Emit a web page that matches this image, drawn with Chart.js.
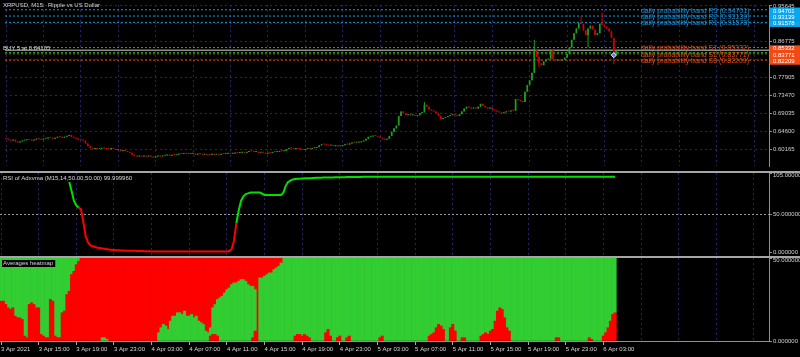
<!DOCTYPE html>
<html><head><meta charset="utf-8">
<script src="https://cdn.jsdelivr.net/npm/chart.js@4/dist/chart.umd.min.js"></script>
<style>
html,body{margin:0;padding:0;background:#000;width:800px;height:357px;overflow:hidden}
.pane{position:absolute;left:0;width:800px}
.sep{position:absolute;left:0;width:800px;height:2px;background:#a6a6a6}
</style></head><body>
<div class="pane" style="top:0;height:171px"><canvas id="cMain"></canvas></div>
<div class="sep" style="top:171px"></div>
<div class="pane" style="top:173px;height:83px"><canvas id="cRsi"></canvas></div>
<div class="sep" style="top:256px"></div>
<div class="pane" style="top:258px;height:99px"><canvas id="cHeat"></canvas></div>
<script>
// ---------------- DATA ----------------
const headerText = 'XRPUSD, M15:  Ripple vs US Dollar';
const orderText = 'BUY 5 at 0.84105';
const rsiTitle = 'RSI of Adxvma (M15,14,50.00,50.00) 99.999960';
const heatTitle = 'Averages heatmap';

const timeLabels = ['3 Apr 2021','3 Apr 15:00','3 Apr 19:00','3 Apr 23:00','4 Apr 03:00','4 Apr 07:00','4 Apr 11:00','4 Apr 15:00','4 Apr 19:00','4 Apr 23:00','5 Apr 03:00','5 Apr 07:00','5 Apr 11:00','5 Apr 15:00','5 Apr 19:00','5 Apr 23:00','6 Apr 03:00'];
const barsPerLabel = 16;

const priceTicks = [0.60165,0.64600,0.69035,0.73470,0.77905,0.82340,0.86775,0.91210,0.95645];

const firstOpen = 0.6290;
const closes = [
0.6273,0.6250,0.6227,0.6250,0.6203,0.6180,0.6203,0.6227,0.6235,0.6250,
0.6245,0.6227,0.6250,0.6273,0.6268,0.6250,0.6273,0.6280,0.6297,0.6290,
0.6273,0.6297,0.6320,0.6315,0.6297,0.6320,0.6343,0.6367,0.6320,0.6297,
0.6273,0.6250,0.6245,0.6227,0.6157,0.6087,0.6040,0.6017,0.6040,0.6017,
0.6022,0.6040,0.6035,0.6017,0.6010,0.6040,0.6017,0.5993,0.5998,0.5970,
0.5993,0.5970,0.5946,0.5923,0.5876,0.5853,0.5830,0.5853,0.5830,0.5853,
0.5830,0.5853,0.5830,0.5806,0.5830,0.5853,0.5830,0.5853,0.5858,0.5876,
0.5853,0.5876,0.5870,0.5880,0.5900,0.5895,0.5905,0.5900,0.5894,0.5900,
0.5906,0.5876,0.5900,0.5895,0.5876,0.5882,0.5876,0.5870,0.5900,0.5876,
0.5880,0.5876,0.5900,0.5894,0.5900,0.5905,0.5900,0.5906,0.5923,0.5918,
0.5923,0.5928,0.5923,0.5946,0.5970,0.5965,0.5946,0.5950,0.5923,0.5928,
0.5923,0.5900,0.5923,0.5918,0.5946,0.5941,0.5946,0.5970,0.5965,0.5970,
0.6017,0.6040,0.6035,0.6017,0.6022,0.6017,0.6012,0.5993,0.6017,0.6022,
0.6017,0.6040,0.6045,0.6063,0.6110,0.6133,0.6128,0.6110,0.6105,0.6110,
0.6087,0.6110,0.6087,0.6092,0.6110,0.6133,0.6128,0.6157,0.6180,0.6175,
0.6180,0.6185,0.6203,0.6227,0.6273,0.6320,0.6325,0.6343,0.6338,0.6320,
0.6297,0.6273,0.6250,0.6273,0.6343,0.6437,0.6530,0.6600,0.6833,0.6950,
0.6904,0.6857,0.6880,0.6857,0.6862,0.6833,0.6857,0.6904,0.6927,0.7114,
0.7067,0.6997,0.6974,0.6950,0.6904,0.6833,0.6763,0.6787,0.6810,0.6833,
0.6857,0.6880,0.6857,0.6833,0.6880,0.6950,0.7020,0.7067,0.7044,0.7020,
0.7044,0.7020,0.7067,0.7137,0.7090,0.7044,0.7020,0.7044,0.6997,0.6974,
0.6950,0.6927,0.6904,0.6927,0.6950,0.6945,0.6974,0.6969,0.7254,0.7230,
0.7207,0.7184,0.7440,0.7604,0.7720,0.7907,0.8491,0.8304,0.8141,0.8094,
0.8187,0.8234,0.8257,0.8467,0.8234,0.8211,0.8234,0.8211,0.8234,0.8281,
0.8374,0.8537,0.8724,0.8888,0.9004,0.9144,0.9121,0.8958,0.8841,0.9004,
0.9074,0.8981,0.8841,0.8888,0.9121,0.9098,0.9051,0.9004,0.8934,0.8771,
0.8351,0.8467];
// notable wicks [bar, price]
const wickHigh = [[179,0.7184],[226,0.8724],[246,0.9308],[255,0.9401],[233,0.8491]];
const wickLow = [[228,0.8047],[249,0.8537],[260,0.8117],[186,0.6740]];

const bandNames = ['R3','R2','R1','S1','S2','S3'];
const bandValues = [0.94701,0.93139,0.91578,0.85332,0.83771,0.82209];
const orderPrice = 0.84105;
const bidPrice = 0.8467;
const markerBar = 260, markerPrice = 0.8345;
const bandLabelBar = 271.6;

const rsiValues = [
null,null,null,null,null,null,null,null,null,null,
null,null,null,null,null,null,null,null,null,null,
null,null,null,null,null,null,null,null,null,93,
81,68,62,59,57,40,21,13,9,8,
7,6,5.5,5,4.5,4,3.5,3,2.8,2.6,
2.5,2.3,2.2,2.1,2,2,1.9,1.8,1.7,1.6,
1.5,1.4,1.3,1.2,1.1,1,1,1,0.9,0.9,
0.9,0.9,0.8,0.8,0.8,0.8,0.8,0.8,0.8,0.8,
0.8,0.8,0.8,0.8,0.8,0.8,0.8,0.8,0.8,0.8,
0.8,0.8,0.8,0.8,0.8,0.9,1,1.5,4,15,
38,55,68,74,77,78,79,79,79,79,
79,77.5,76,76,76,76,76,76,76,76,
79,88,93,95,96.5,97,97.5,97.5,97.8,98,
98,98.2,98.3,98.5,98.6,98.7,98.8,98.9,99,99,
99.1,99.2,99.3,99.3,99.4,99.5,99.5,99.6,99.6,99.7,
99.7,99.8,99.8,99.8,99.9,99.9,99.9,99.9,99.9,99.9,
100,100,100,100,100,100,100,100,100,100,
100,100,100,100,100,100,100,100,100,100,
100,100,100,100,100,100,100,100,100,100,
100,100,100,100,100,100,100,100,100,100,
100,100,100,100,100,100,100,100,100,100,
100,100,100,100,100,100,100,100,100,100,
100,100,100,100,100,100,100,100,100,100,
100,100,100,100,100,100,100,100,100,100,
100,100,100,100,100,100,100,100,100,100,
100,100,100,100,100,100,100,100,100,100,
100,100];
const rsiTrendRuns = [[29,33,1],[34,100,0],[101,261,1]];
const rsiAxisTicks = [0,50,105];

// heatmap: rows 0..50 ; per bar: red at bottom, then green, then red on top, rest green
const heatRows = 50;
const heatRedLow = [
24,24,22,20,19,20,15,14,14,13,
3,2,22,23,22,20,20,4,3,2,
2,25,24,3,2,2,17,18,28,30,
40,42,46,48,0,0,0,0,0,0,
0,0,0,0,0,0,0,0,0,0,
0,0,0,0,0,0,0,0,0,0,
0,0,0,0,0,0,0,0,0,0,
0,0,0,0,0,0,0,0,0,0,
0,0,0,0,0,0,0,0,0,3,
4,4,3,0,0,0,0,0,0,0,
0,0,0,0,0,0,0,2,6,0,
0,0,0,0,0,0,0,0,0,0,
0,0,0,0,0,3,4,4,3,4,
3,2,0,0,0,0,0,0,5,7,
3,0,0,2,3,0,0,2,3,0,
0,0,0,0,0,0,0,0,0,0,
0,2,3,0,0,0,0,0,0,0,
0,0,0,0,0,0,0,0,0,0,
0,0,3,4,5,8,10,9,7,0,
0,8,10,6,0,0,2,2,0,0,
0,0,0,0,3,4,5,4,6,7,
12,18,20,19,14,8,6,0,0,0,
0,0,0,0,0,0,0,0,0,0,
0,0,0,0,0,0,2,2,0,0,
0,0,0,0,0,0,0,0,0,0,
2,1,0,0,0,0,3,5,8,12,
16,17];
const heatSpanStart = 34;
const heatGreenMid = [
0,0,0,0,0,0,
0,0,0,2,2,1,0,0,0,0,
0,0,0,0,0,0,0,0,0,0,
0,0,0,0,0,0,0,5,8,10,
9,7,12,15,15,17,17,16,18,15,
15,16,14,15,12,11,10,6,5,5,
16,18,22,26,27,29,31,32,34,35,
35,36,37,37,36,34,33,31,25,0,
38,38,39,40,41,41,43,44,45,47];
const heatRedTop = [
50,50,50,50,50,50,
50,50,50,48,48,49,50,50,50,50,
50,50,50,50,50,50,50,50,50,50,
50,50,50,50,50,50,50,45,42,40,
41,43,38,35,35,33,33,34,32,35,
35,34,36,35,38,39,40,44,45,42,
30,28,25,24,23,21,19,18,16,15,
15,14,13,13,14,16,17,17,19,50,
12,12,11,10,9,9,7,6,5,3];

// ---------------- STYLE ----------------
const FONT = '"Liberation Sans", Arial, sans-serif';
Chart.defaults.font.family = FONT;
Chart.defaults.color = '#d0d0d0';
const gridColor = '#24246e';
const gridDash = [2,3];
const axisGray = '#909090';
const upColor = '#1ea01e', downColor = '#d40000';
const rColor = '#1f90d8', sColor = '#e4501e';
const rBox = '#0aa6ee', sBox = '#f24a14';
const heatRed = '#ff0000', heatGreen = '#32cd32';
const xMin = -0.43, xMax = 326.4;
const priceMin = 0.55963, priceMax = 0.95878;
const lastLabelBar = (timeLabels.length - 1) * barsPerLabel;

// ---------------- helpers ----------------
const N = closes.length;
const opens = closes.map((c, i) => i ? closes[i - 1] : firstOpen);
const highs = closes.map((c, i) => Math.max(c, opens[i]));
const lows = closes.map((c, i) => Math.min(c, opens[i]));
wickHigh.forEach(([i, v]) => highs[i] = Math.max(highs[i], v));
wickLow.forEach(([i, v]) => lows[i] = Math.min(lows[i], v));
const candleCol = closes.map((c, i) => c >= opens[i] ? upColor : downColor);

function xAxis(showLabels) {
  return {
    type: 'linear', min: xMin, max: xMax, offset: false, bounds: 'data', stacked: true,
    afterBuildTicks: s => {
      const t = [];
      for (let v = 0; v <= xMax; v += barsPerLabel) t.push({ value: v });
      s.ticks = t;
    },
    afterFit: s => { s.height = showLabels ? 16 : 0; s.paddingLeft = 0; s.paddingRight = 0; },
    grid: {
      color: gridColor, lineWidth: 1, offset: false, drawTicks: showLabels, tickLength: 4,
      tickColor: c => (c.tick && c.tick.value <= lastLabelBar) ? '#a8a8a8' : 'rgba(0,0,0,0)',
      tickBorderDash: []
    },
    border: { display: showLabels, color: axisGray, dash: gridDash },
    ticks: {
      display: showLabels, autoSkip: false, maxRotation: 0, minRotation: 0, align: 'start',
      color: '#d8d8d8', font: { size: 6, family: FONT }, padding: 1,
      callback: (v, i) => (i < timeLabels.length ? timeLabels[i] : '')
    }
  };
}

const baseOpts = {
  responsive: true, maintainAspectRatio: false, animation: false, events: [],
  devicePixelRatio: 1,
  layout: { padding: 0 },
  plugins: { legend: { display: false }, tooltip: { enabled: false } }
};

function drawRightLabels(chart, ticks) {
  const ctx = chart.ctx, ys = chart.scales.y, ca = chart.chartArea;
  ctx.save();
  ctx.font = '6px ' + FONT; ctx.fillStyle = '#d0d0d0';
  ctx.textAlign = 'left'; ctx.textBaseline = 'middle';
  ticks.forEach(v => {
    let py = ys.getPixelForValue(v);
    py = Math.max(py, ca.top + 2.8);
    ctx.fillText(v.toFixed(6), ca.right + 4, py);
  });
  ctx.restore();
}

// ---------------- MAIN PRICE CHART ----------------
const lineDs = (v, color, dash, w) => ({
  type: 'line', data: [{ x: xMin, y: v }, { x: xMax, y: v }], borderColor: color,
  borderWidth: w || 1, borderDash: dash, pointRadius: 0, order: 5
});
const levelSets = bandValues.map((v, k) => lineDs(v, k < 3 ? '#1a9ad6' : '#e8481a', [2, 2]));

new Chart(document.getElementById('cMain'), {
  type: 'bar',
  data: {
    datasets: [
      ...levelSets,
      lineDs(orderPrice, '#10a010', [2, 2]),
      lineDs(bidPrice, '#8c8c8c', [], 1.5),
      { type: 'bar', data: closes.map((c, i) => ({ x: i, y: [lows[i], highs[i]] })),
        backgroundColor: candleCol, barThickness: 1, grouped: false, inflateAmount: 0, order: 3 },
      { type: 'bar', data: closes.map((c, i) => ({ x: i, y: [opens[i], c] })),
        backgroundColor: candleCol, barThickness: 1.7, grouped: false, minBarLength: 1, inflateAmount: 0, order: 2 },
      { type: 'line', data: [{ x: markerBar, y: markerPrice }], showLine: false, pointStyle: 'rectRot',
        pointRadius: 2.6, pointBackgroundColor: '#3a8ee6', pointBorderColor: '#e8f2ff', pointBorderWidth: 1, order: 0 }
    ]
  },
  options: {
    ...baseOpts,
    scales: {
      x: xAxis(false),
      y: {
        position: 'right', min: priceMin, max: priceMax, bounds: 'data',
        afterBuildTicks: s => { s.ticks = priceTicks.map(v => ({ value: v })); },
        afterFit: s => { s.width = 31; s.paddingTop = 0; s.paddingBottom = 0; },
        grid: { color: gridColor, drawTicks: true, tickLength: 3, tickColor: axisGray, tickBorderDash: [] },
        border: { display: true, color: axisGray, dash: gridDash },
        ticks: { autoSkip: false, color: '#d0d0d0', font: { size: 6, family: FONT }, padding: 1,
                 callback: v => Number(v).toFixed(5) }
      }
    }
  },
  plugins: [{
    id: 'mainText',
    afterDraw(chart) {
      const ctx = chart.ctx, xs = chart.scales.x, ys = chart.scales.y, ca = chart.chartArea;
      ctx.save();
      ctx.textAlign = 'left'; ctx.textBaseline = 'middle';
      ctx.font = '6px ' + FONT; ctx.fillStyle = '#d8d8d8';
      ctx.fillText(headerText, 3, 5);
      ctx.fillText(orderText, 3, ys.getPixelForValue(orderPrice) - 4);
      ctx.font = '7px ' + FONT;
      const lx = xs.getPixelForValue(bandLabelBar);
      bandNames.forEach((n, k) => {
        ctx.fillStyle = k < 3 ? rColor : sColor;
        ctx.fillText('daily probability band ' + n + ' (' + bandValues[k].toFixed(5) + ')', lx, ys.getPixelForValue(bandValues[k]) + 1);
      });
      ctx.font = '6px ' + FONT;
      bandValues.forEach((v, k) => {
        const py = ys.getPixelForValue(v) + 1.2;
        ctx.fillStyle = k < 3 ? rBox : sBox;
        ctx.fillRect(ca.right + 1, py - 3.4, 31, 6.8);
        ctx.fillStyle = '#ffffff';
        ctx.fillText(v.toFixed(5), ca.right + 4, py);
      });
      ctx.restore();
    }
  }]
});

// ---------------- RSI CHART ----------------
const rsiPts = [];
rsiValues.forEach((v, i) => { if (v !== null) rsiPts.push({ x: i, y: v }); });
function rsiUp(i) {
  for (const [a, b, u] of rsiTrendRuns) if (i >= a && i <= b) return u;
  return 1;
}
new Chart(document.getElementById('cRsi'), {
  type: 'line',
  data: { datasets: [{
    data: rsiPts, borderWidth: 2, pointRadius: 0, tension: 0,
    borderColor: '#00e000',
    segment: { borderColor: c => rsiUp(rsiPts[c.p1DataIndex].x) ? '#00e000' : '#ff0000' }
  }] },
  options: {
    ...baseOpts,
    scales: {
      x: xAxis(false),
      y: {
        position: 'right', min: -5, max: 105, bounds: 'data',
        afterBuildTicks: s => { s.ticks = rsiAxisTicks.map(v => ({ value: v })); },
        afterFit: s => { s.width = 31; s.paddingTop = 0; s.paddingBottom = 0; },
        grid: { color: c => (c.tick && c.tick.value === 50) ? '#9a9a9a' : 'rgba(0,0,0,0)',
                drawTicks: true, tickLength: 3, tickColor: axisGray, tickBorderDash: [] },
        border: { display: true, color: axisGray, dash: [2, 2] },
        ticks: { display: false }
      }
    }
  },
  plugins: [{
    id: 'rsiText',
    afterDraw(chart) {
      const ctx = chart.ctx;
      ctx.save();
      ctx.font = '6px ' + FONT; ctx.fillStyle = '#d8d8d8';
      ctx.textAlign = 'left'; ctx.textBaseline = 'middle';
      ctx.fillText(rsiTitle, 3, 5.5);
      ctx.restore();
      drawRightLabels(chart, rsiAxisTicks);
    }
  }]
});

// ---------------- HEATMAP CHART ----------------
const hRedLow = [], hGreenMid = [], hRedTop = [], hGreenTop = [];
for (let i = 0; i < N; i++) {
  const a = heatRedLow[i];
  const k = i - heatSpanStart;
  const inSpan = k >= 0 && k < heatGreenMid.length;
  const g = inSpan ? heatGreenMid[k] : 0;
  const r = inSpan ? heatRedTop[k] : 0;
  const rest = heatRows - a - g - r;
  hRedLow.push({ x: i, y: a || null });
  hGreenMid.push({ x: i, y: g || null });
  hRedTop.push({ x: i, y: r || null });
  hGreenTop.push({ x: i, y: rest || null });
}
const heatDs = (data, color) => ({ data, backgroundColor: color, borderWidth: 0,
  barPercentage: 1, categoryPercentage: 1, stack: 'h' });
const heatTicks = [0, 50];
new Chart(document.getElementById('cHeat'), {
  type: 'bar',
  data: { datasets: [
    heatDs(hRedLow, heatRed), heatDs(hGreenMid, heatGreen),
    heatDs(hRedTop, heatRed), heatDs(hGreenTop, heatGreen)
  ] },
  options: {
    ...baseOpts,
    scales: {
      x: xAxis(true),
      y: {
        position: 'right', min: 0, max: heatRows, stacked: true, bounds: 'data',
        afterBuildTicks: s => { s.ticks = heatTicks.map(v => ({ value: v })); },
        afterFit: s => { s.width = 31; s.paddingTop = 0; s.paddingBottom = 0; },
        grid: { drawOnChartArea: false, drawTicks: true, tickLength: 3, tickColor: axisGray },
        border: { display: true, color: axisGray },
        ticks: { display: false }
      }
    }
  },
  plugins: [{
    id: 'heatText',
    afterDraw(chart) {
      const ctx = chart.ctx;
      ctx.save();
      ctx.font = '6px ' + FONT;
      const w = ctx.measureText(heatTitle).width;
      ctx.fillStyle = '#000';
      ctx.fillRect(2, 2, w + 3, 7);
      ctx.fillStyle = '#d8d8d8';
      ctx.textAlign = 'left'; ctx.textBaseline = 'middle';
      ctx.fillText(heatTitle, 3, 5.5);
      ctx.restore();
      drawRightLabels(chart, heatTicks);
    }
  }]
});
</script>
</body></html>
